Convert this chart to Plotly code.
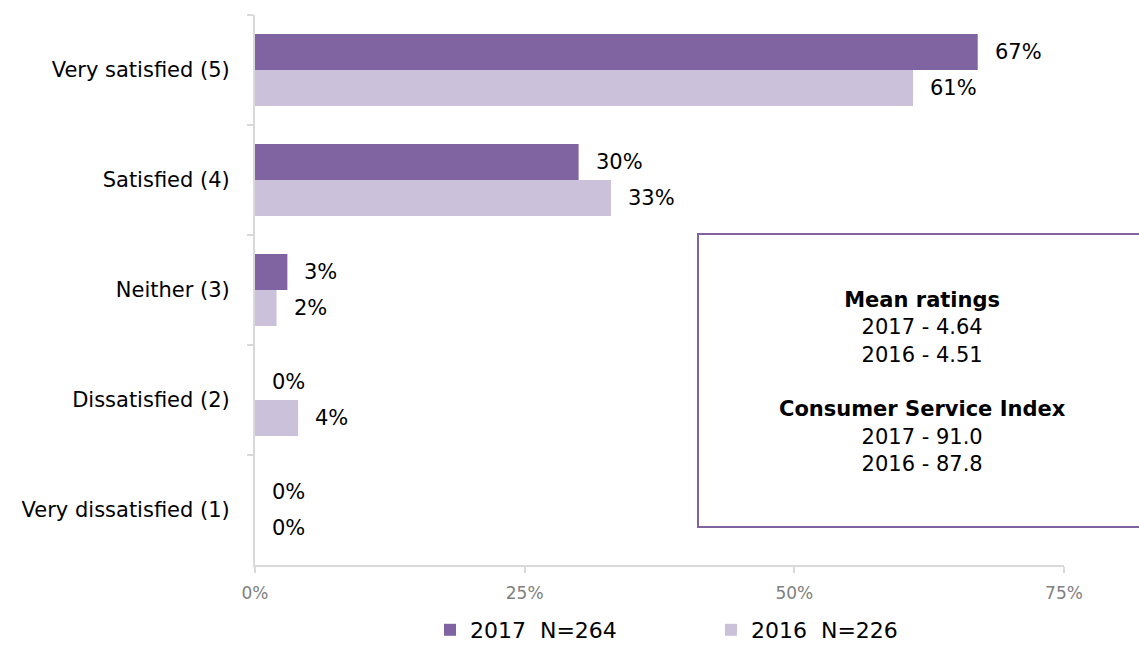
import plotly.graph_objects as go

categories = ["Very satisfied (5)", "Satisfied (4)", "Neither (3)", "Dissatisfied (2)", "Very dissatisfied (1)"]
values_2017 = [67, 30, 3, 0, 0]
values_2016 = [61, 33, 2, 4, 0]
series_names = ["2017\u00a0\u00a0N=264", "2016\u00a0\u00a0N=226"]
x_ticks = [0, 25, 50, 75]
x_tick_labels = ["0%", "25%", "50%", "75%"]
box_text = ("<b>Mean ratings</b><br>2017 - 4.64<br>2016 - 4.51<br><br>"
            "<b>Consumer Service Index</b><br>2017 - 91.0<br>2016 - 87.8")

COL_2017 = "#8064A2"
COL_2016 = "#CCC1DA"
FONT = "DejaVu Sans"

# plot area in pixels
L, R, T, B = 255, 1064, 15, 565
W, H = R - L, B - T

fig = go.Figure()
fig.add_trace(go.Bar(y=categories, x=values_2017, orientation="h", name=series_names[0],
                     marker=dict(color=COL_2017, line=dict(width=0))))
fig.add_trace(go.Bar(y=categories, x=values_2016, orientation="h", name=series_names[1],
                     marker=dict(color=COL_2016, line=dict(width=0))))

annotations = []
for vals, shift in ((values_2017, 18), (values_2016, -18)):
    for cat, v in zip(categories, vals):
        annotations.append(dict(x=v, y=cat, xref="x", yref="y", text=f"{v}%",
                                showarrow=False, xanchor="left", yanchor="middle",
                                xshift=15, yshift=shift,
                                font=dict(family=FONT, size=21, color="#000000")))

# text inside the summary box
annotations.append(dict(x=(922 - L) / W, y=(B - 382) / H, xref="paper", yref="paper",
                        text=box_text, showarrow=False, xanchor="center", yanchor="middle",
                        font=dict(family=FONT, size=21, color="#000000")))

fig.update_layout(
    width=1139, height=646,
    margin=dict(l=L, r=1139 - R, t=T, b=646 - B, autoexpand=False),
    paper_bgcolor="white", plot_bgcolor="white",
    barmode="group", bargap=0.345, bargroupgap=0,
    font=dict(family=FONT, size=20, color="#000000"),
    showlegend=True,
    legend=dict(orientation="h", x=(430 - L) / W, xanchor="left",
                y=-(651 - B) / H, yanchor="bottom",
                font=dict(family=FONT, size=22, color="#000000"),
                itemwidth=30, entrywidth=236, traceorder="normal",
                bgcolor="rgba(0,0,0,0)"),
    xaxis=dict(range=[0, 75], tickvals=x_ticks, ticktext=x_tick_labels,
               showgrid=False, zeroline=False, showline=True, linecolor="#d9d9d9", linewidth=2,
               ticks="outside", ticklen=6, tickcolor="#d9d9d9", tickwidth=2,
               tickfont=dict(family=FONT, size=17, color="#808080"), ticklabelstandoff=6),
    yaxis=dict(autorange="reversed", showgrid=False, zeroline=False, showline=True,
               linecolor="#d9d9d9", linewidth=2, ticks="outside", ticklen=6,
               tickcolor="#d9d9d9", tickwidth=2, tickson="boundaries",
               tickfont=dict(family=FONT, size=21, color="#000000"), ticklabelstandoff=19),
    annotations=annotations,
)

# Summary box, running off the right edge of the page
fig.add_shape(type="rect", xref="paper", yref="paper",
              x0=(698 - L) / W, x1=(1150 - L) / W,
              y0=(B - 527) / H, y1=(B - 234) / H,
              line=dict(color="#8064A2", width=2), fillcolor="rgba(0,0,0,0)")

fig.write_html("out.html")
